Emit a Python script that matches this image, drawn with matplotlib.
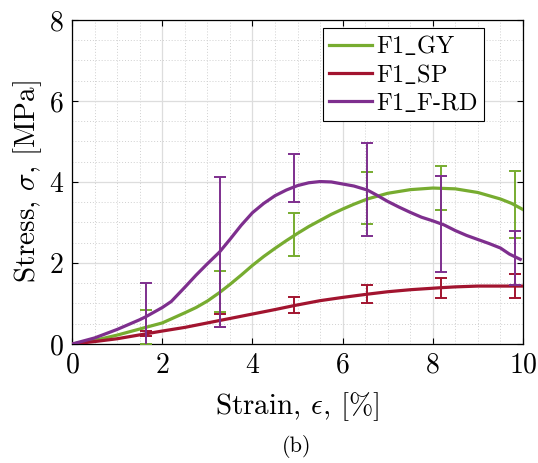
import matplotlib
matplotlib.use("Agg")
import matplotlib.pyplot as plt
from matplotlib.ticker import MultipleLocator

plt.rcParams['font.family'] = 'cmr10'
plt.rcParams['mathtext.fontset'] = 'cm'
plt.rcParams['axes.formatter.use_mathtext'] = True

# mean curves (strain %, stress MPa)
gy_x = [0, 0.5, 1.0, 1.5, 1.63, 2.0, 2.3, 2.5, 2.75, 3.0, 3.27, 3.5, 3.75, 4.0, 4.25, 4.5, 4.75, 5.0,
        5.25, 5.5, 5.75, 6.0, 6.25, 6.55, 7.0, 7.5, 8.0, 8.5, 9.0, 9.5, 9.75, 10.0]
gy_y = [0, 0.09, 0.22, 0.37, 0.41, 0.52, 0.67, 0.77, 0.90, 1.06, 1.27, 1.47, 1.70, 1.94, 2.16, 2.36, 2.55, 2.73,
        2.90, 3.05, 3.20, 3.33, 3.45, 3.58, 3.72, 3.81, 3.85, 3.83, 3.74, 3.58, 3.47, 3.32]

sp_x = [0, 0.5, 1.0, 1.63, 2.0, 2.5, 3.0, 3.27, 3.5, 4.0, 4.5, 4.93, 5.5, 6.0, 6.55, 7.0, 7.5, 8.18, 8.5, 9.0, 9.83, 10.0]
sp_y = [0, 0.06, 0.13, 0.25, 0.32, 0.41, 0.52, 0.58, 0.63, 0.74, 0.85, 0.95, 1.07, 1.15, 1.23, 1.29, 1.34, 1.39, 1.41, 1.43, 1.43, 1.43]

rd_x = [0, 0.5, 1.0, 1.5, 1.63, 2.0, 2.2, 2.5, 2.75, 3.0, 3.27, 3.5, 3.75, 4.0, 4.25, 4.5, 4.75, 5.0, 5.25,
        5.5, 5.75, 6.0, 6.25, 6.55, 6.75, 7.0, 7.25, 7.5, 7.75, 8.0, 8.25, 8.5, 8.75, 9.0, 9.25, 9.5, 9.7, 9.94]
rd_y = [0, 0.15, 0.36, 0.60, 0.67, 0.90, 1.05, 1.40, 1.70, 1.98, 2.27, 2.58, 2.93, 3.24, 3.47, 3.66, 3.80, 3.91, 3.98,
        4.01, 4.00, 3.95, 3.90, 3.80, 3.68, 3.52, 3.38, 3.25, 3.13, 3.04, 2.94, 2.80, 2.68, 2.58, 2.48, 2.37, 2.22, 2.09]

# error bars at test points
err_x = [1.63, 3.27, 4.93, 6.55, 8.18, 9.83]
gy_m = [0.42, 1.29, 2.70, 3.61, 3.86, 3.44]
gy_e = [0.43, 0.51, 0.53, 0.64, 0.54, 0.83]
sp_m = [0.25, 0.58, 0.96, 1.23, 1.39, 1.43]
sp_e = [0.06, 0.15, 0.20, 0.23, 0.25, 0.29]
rd_m = [0.68, 2.27, 4.10, 3.81, 2.96, 2.13]
rd_e = [0.83, 1.85, 0.59, 1.15, 1.19, 0.67]

green = '#77AC30'
red = '#A2142F'
purple = '#7E2F8E'

fig = plt.figure(figsize=(5.38, 4.63), dpi=100)
ax = fig.add_axes([0.134, 0.257, 0.838, 0.700])

ax.plot(gy_x, gy_y, color=green, lw=2.3, label=r'F1$\_$GY', zorder=3)
ax.plot(sp_x, sp_y, color=red, lw=2.3, label=r'F1$\_$SP', zorder=3)
ax.plot(rd_x, rd_y, color=purple, lw=2.3, label=r'F1$\_$F-RD', zorder=3)

for m, e, c in [(gy_m, gy_e, green), (sp_m, sp_e, red), (rd_m, rd_e, purple)]:
    ax.errorbar(err_x, m, yerr=e, fmt='none', ecolor=c, elinewidth=1.4,
                capsize=4, capthick=1.4, zorder=3)

ax.set_xlim(0, 10)
ax.set_ylim(0, 8)
ax.xaxis.set_major_locator(MultipleLocator(2))
ax.yaxis.set_major_locator(MultipleLocator(2))
ax.xaxis.set_minor_locator(MultipleLocator(0.5))
ax.yaxis.set_minor_locator(MultipleLocator(0.5))
ax.grid(True, which='major', color='#dddddd', lw=0.9)
ax.grid(True, which='minor', color='#d0d0d0', lw=0.7, linestyle=(0, (1, 2)))
ax.set_axisbelow(True)
ax.tick_params(which='major', direction='in', top=True, right=True, length=4,
               labelsize=20, pad=6)
ax.tick_params(which='minor', length=0)
for s in ax.spines.values():
    s.set_linewidth(0.9)

ax.set_xlabel(r'Strain, $\epsilon$, [%]', fontsize=21, labelpad=8)
ax.set_ylabel(r'Stress, $\sigma$, [MPa]', fontsize=21, labelpad=3)

leg = ax.legend(loc='upper right', bbox_to_anchor=(0.925, 0.99), fontsize=17.5,
                fancybox=False, edgecolor='black', framealpha=1,
                handlelength=1.75, handletextpad=0.2, borderpad=0.25, labelspacing=0.2,
                borderaxespad=0.2)
leg.get_frame().set_linewidth(0.8)

fig.text(0.552, 0.036, '(b)', ha='center', va='center', fontsize=16)

fig.savefig('out.png', dpi=100)
